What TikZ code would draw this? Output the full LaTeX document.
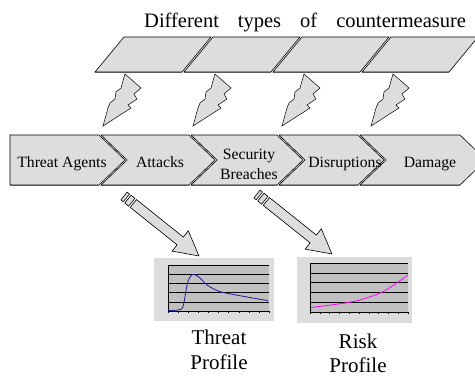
\documentclass[tikz,border=0pt]{standalone}
\usepackage{fontspec}
\setmainfont{Liberation Serif}
\usepackage{tikz}
\usetikzlibrary{calc}
\definecolor{panelgray}{RGB}{221,221,221}
\definecolor{plotgray}{RGB}{192,192,192}
\definecolor{threatblue}{RGB}{30,30,150}
\definecolor{riskpink}{RGB}{255,0,255}

\begin{document}
\begin{tikzpicture}[
    x=1pt, y=-1pt,
    panel/.style={draw, fill=panelgray, line width=0.6pt, line join=miter},
    shadowedge/.style={draw=black!65, line width=1.3pt},
    bolt/.style={draw, fill=panelgray, line width=0.5pt, line join=miter},
    stagetext/.style={font=\fontsize{15.7}{20}\selectfont, anchor=base, inner sep=0pt, align=center},
    caption/.style={font=\fontsize{21}{24.5}\selectfont, anchor=base, inner sep=0pt, align=center},
    chartbg/.style={fill=panelgray, inner sep=0pt, anchor=north west},
    gridline/.style={line width=0.6pt},
]
    \useasboundingbox (0,0) rectangle (475,378);
    \clip (0,0) rectangle (475,378);

    % countermeasures
    \node[anchor=base west, inner sep=0pt, font=\fontsize{20.5}{24}\selectfont] (title) at (144,27)
        {Different\hspace{19pt}types\hspace{19pt}of\hspace{19pt}countermeasure};
    \foreach \t in {124,213,302,391} {
        \draw[panel] (\t,37) -- ++(87,0) -- ++(-29,35) -- ++(-87,0) -- cycle;
        \draw[shadowedge] (\t-29,72.6) -- ++(87,0);
    }

    % lightning
    \foreach \x in {103,193,282,371}
        \draw[bolt, shift={(\x,126)}] (0,0) -- (28,-18) -- (25,-21) -- (34,-27) -- (31,-32)
            -- (38,-38) -- (22,-52) -- (18,-38) -- (13,-34) -- (12,-27) -- (7,-23) -- (5,-18) -- cycle;

    % stages
    \draw[panel] (10,135) -- (99,135) -- (125,160) -- (99,185) -- (10,185) -- cycle;
    \draw[shadowedge] (10,185.6) -- (99,185.6);
    \foreach \l/\r in {101/189,191/277,279/358,360/460} {
        \draw[panel] (\l,135) -- (\r,135) -- (\r+26,160) -- (\r,185) -- (\l,185) -- (\l+26,160) -- cycle;
        \draw[shadowedge] (\l,185.6) -- (\r,185.6);
    }
    \node[stagetext] (agents) at (62,167) {Threat Agents};
    \node[stagetext] (attacks) at (160,167) {Attacks};
    \node[stagetext] (breaches) at (249,179) {Security\\Breaches};
    \node[stagetext] (disrupt) at (345,167) {Disruptions};
    \node[stagetext] (damage) at (430,167) {Damage};

    % threat profile
    \node[chartbg, minimum width=120pt, minimum height=63pt] (tchart) at (154,258) {};
    \fill[plotgray] (168,265) rectangle (269,311);
    \foreach \g in {265,274.2,283.4,292.6,301.8}
        \draw[gridline] (168,\g) -- (269,\g);
    \draw[line width=1pt] (168,265) -- (168,311) -- (269,311);
    \foreach \k in {0,...,10}
        \draw[line width=0.3pt] (168+\k*10.1,311) -- ++(0,2);
    \draw[threatblue, line width=0.8pt] plot[smooth] coordinates {(168,310.5) (178,310) (183,306.5)
        (187,285) (190,277) (194,274.3) (200,278) (207,285) (217,290.5) (227,293.3) (268,300.7)};
    \node[caption] (tcap) at (219,369) {Threat\\Profile};

    % risk profile
    \node[chartbg, minimum width=115pt, minimum height=66pt] (rchart) at (297,257) {};
    \fill[plotgray] (310,263) rectangle (408,312);
    \foreach \g in {263,272.8,282.6,292.4,302.2}
        \draw[gridline] (310,\g) -- (408,\g);
    \draw[line width=1pt] (310,263) -- (310,312) -- (408,312);
    \foreach \k in {0,...,10}
        \draw[line width=0.3pt] (310+\k*9.8,312) -- ++(0,2);
    \draw[riskpink, line width=0.8pt] plot[smooth] coordinates {(311,307.5) (334,304.6) (357,300.7)
        (383,291.7) (408,275)};
    \node[caption] (rcap) at (358,372.5) {Risk\\Profile};

    % arrows to the profiles
    \coordinate (tailA) at (124,196);
    \coordinate (tailB) at (257,194);
    \foreach \c in {tailA,tailB} {
        \begin{scope}[shift={(\c)}, rotate=-38.66]
            \draw[panel] (0,-5) rectangle (3,5);
            \draw[panel] (5,-5) rectangle (10,5);
            \draw[panel] (12,-5) -- (72,-5) -- (72,-13) -- (96,0) -- (72,13) -- (72,5) -- (12,5) -- cycle;
        \end{scope}
    }
\end{tikzpicture}
\end{document}
